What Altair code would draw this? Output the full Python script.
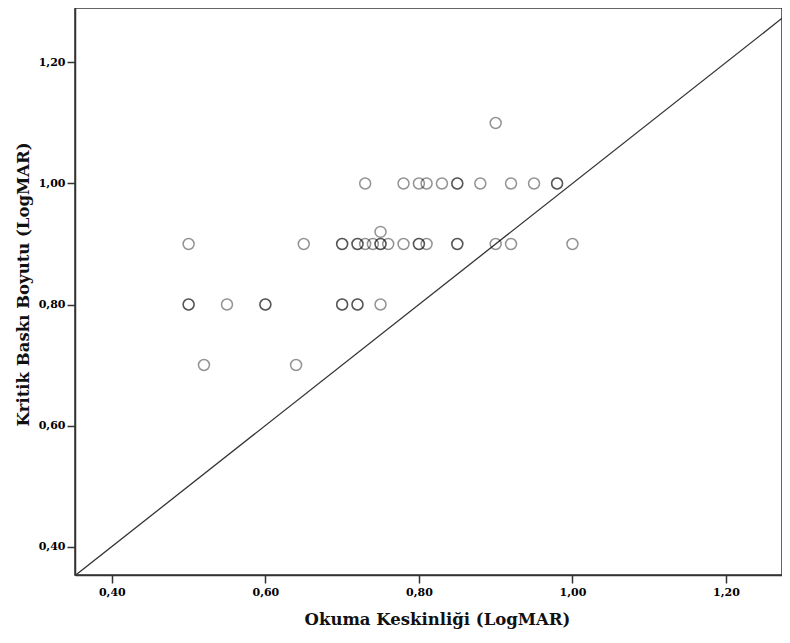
import altair as alt
import pandas as pd

# Okuma Keskinliği (x) and Kritik Baskı Boyutu (y), LogMAR
okuma = [0.52, 0.64,
         0.50, 0.50, 0.55, 0.60, 0.60, 0.70, 0.70, 0.72, 0.72, 0.75,
         0.50, 0.65, 0.70, 0.70, 0.72, 0.72, 0.73, 0.74, 0.75, 0.75, 0.76, 0.78,
         0.80, 0.80, 0.81, 0.85, 0.85, 0.90, 0.92, 1.00,
         0.75,
         0.73, 0.78, 0.80, 0.81, 0.83, 0.85, 0.85, 0.88, 0.92, 0.95, 0.98, 0.98,
         0.90]
kritik = [0.70, 0.70,
          0.80, 0.80, 0.80, 0.80, 0.80, 0.80, 0.80, 0.80, 0.80, 0.80,
          0.90, 0.90, 0.90, 0.90, 0.90, 0.90, 0.90, 0.90, 0.90, 0.90, 0.90, 0.90,
          0.90, 0.90, 0.90, 0.90, 0.90, 0.90, 0.90, 0.90,
          0.92,
          1.00, 1.00, 1.00, 1.00, 1.00, 1.00, 1.00, 1.00, 1.00, 1.00, 1.00, 1.00,
          1.10]
ticks = [0.40, 0.60, 0.80, 1.00, 1.20]
x_domain = [0.352, 1.273]
y_domain = [0.353, 1.290]
ref_line = [0.352, 1.273]

pts = pd.DataFrame({"x": okuma, "y": kritik})
diag = pd.DataFrame({"x": ref_line, "y": ref_line})

label_expr = "replace(format(datum.value, '.2f'), '.', ',')"

xs = alt.Scale(domain=x_domain, nice=False, zero=False)
ys = alt.Scale(domain=y_domain, nice=False, zero=False)

x_axis = alt.Axis(values=ticks, labelExpr=label_expr, grid=False, tickSize=8,
                  labelPadding=3, title="Okuma Keskinliği (LogMAR)",
                  titleX=362, titleY=44, titleBaseline="middle", titleAlign="center")
y_axis = alt.Axis(values=ticks, labelExpr=label_expr, grid=False, tickSize=8,
                  labelPadding=2, title="Kritik Baskı Boyutu (LogMAR)",
                  titleX=-52, titleY=276, titleBaseline="middle", titleAlign="center",
                  titleAngle=-90)

points = alt.Chart(pts).mark_point(
    shape="circle", filled=False, size=120, stroke="black", strokeOpacity=0.6,
    strokeWidth=1.5
).encode(
    x=alt.X("x:Q", scale=xs, axis=x_axis),
    y=alt.Y("y:Q", scale=ys, axis=y_axis),
)

line = alt.Chart(diag).mark_line(color="#333333", strokeWidth=1.3, clip=True).encode(
    x=alt.X("x:Q", scale=xs),
    y=alt.Y("y:Q", scale=ys),
)

chart = alt.layer(line, points).properties(
    width=707, height=567,
    autosize=alt.AutoSizeParams(type="none"),
    padding={"left": 67, "top": 0, "right": 0, "bottom": 56},
).configure_view(
    stroke="#333333", strokeWidth=1.5
).configure_axis(
    labelFont="DejaVu Serif", labelFontWeight="bold", labelFontSize=11,
    labelColor="black", titleFont="DejaVu Serif", titleFontWeight="bold",
    titleFontSize=16.5, titleColor="#111111", domainColor="#333333", domainWidth=1.5,
    tickColor="#333333", tickWidth=1.5
)

chart.save("out.html", embed_options={"renderer": "svg", "actions": False})
